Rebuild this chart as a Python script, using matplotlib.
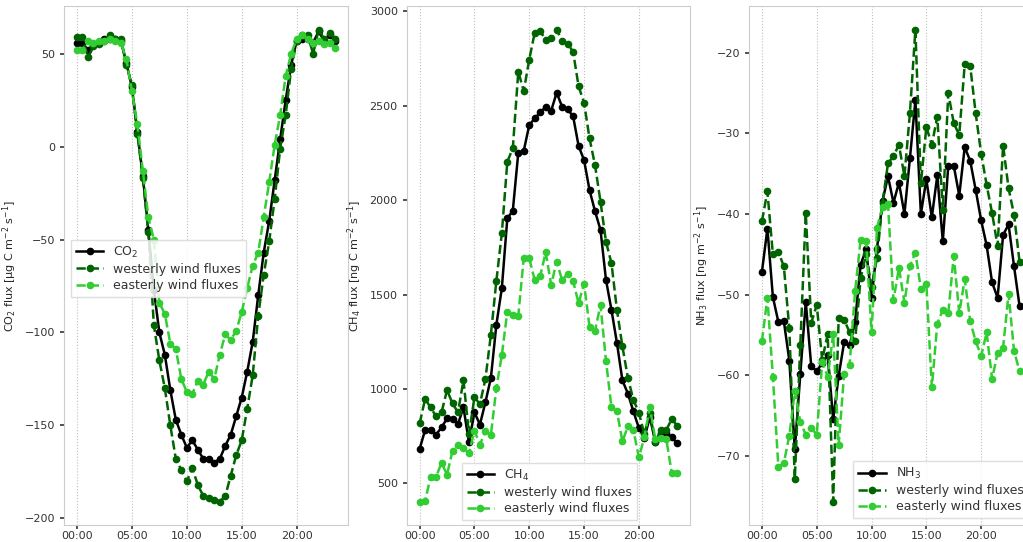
import numpy as np
import matplotlib
matplotlib.use("Agg")
import matplotlib.pyplot as plt

# horário (horas decimais, passos de 30 min)
hours = np.arange(0, 24, 0.5)
tick_hours = [0, 5, 10, 15, 20]
tick_labels = ['00:00', '05:00', '10:00', '15:00', '20:00']

# CO2
co2_all = [56, 56, 52, 55, 56, 58, 58, 58, 57, 45,
           32, 8, -16, -45, -77, -100, -112, -131, -147, -155,
           -162, -158, -163, -168, -168, -170, -168, -161, -155, -145,
           -135, -121, -105, -80, -57, -40, -18, 4, 25, 44,
           57, 58, 58, 56, 62, 57, 60, 57]
co2_west = [59, 59, 48, 54, 55, 57, 60, 58, 58, 44,
            33, 7, -17, -46, -96, -115, -130, -150, -168, -174,
            -180, -173, -182, -188, -189, -190, -191, -188, -177, -166,
            -158, -141, -123, -91, -69, -51, -28, -1, 17, 42,
            57, 60, 60, 50, 63, 58, 61, 58]
co2_east = [52, 52, 57, 56, 57, 57, 58, 57, 56, 47,
            30, 12, -13, -38, -50, -84, -90, -106, -109, -125,
            -132, -133, -126, -128, -121, -125, -112, -101, -104, -99,
            -89, -76, -64, -57, -38, -19, 1, 17, 38, 50,
            58, 60, 58, 56, 57, 55, 56, 53]

# CH4
ch4_all = [682, 782, 782, 758, 796, 844, 840, 814, 902, 717,
           876, 811, 929, 1058, 1340, 1534, 1904, 1944, 2251, 2262,
           2398, 2433, 2465, 2495, 2474, 2569, 2495, 2481, 2445, 2288,
           2212, 2053, 1942, 1842, 1578, 1419, 1243, 1045, 975, 881,
           793, 740, 850, 720, 767, 767, 743, 712]
ch4_west = [817, 947, 902, 855, 876, 994, 923, 876, 1047, 761,
            955, 920, 1052, 1287, 1572, 1825, 2204, 2275, 2680, 2579,
            2745, 2888, 2895, 2851, 2858, 2904, 2844, 2830, 2786, 2604,
            2516, 2327, 2186, 1992, 1780, 1666, 1419, 1225, 1058, 943,
            874, 761, 870, 717, 782, 782, 841, 805]
ch4_east = [403, 405, 535, 535, 608, 546, 673, 705, 687, 659,
            779, 705, 775, 756, 1005, 1179, 1410, 1391, 1387, 1696,
            1692, 1576, 1599, 1724, 1551, 1675, 1576, 1611, 1572, 1454,
            1558, 1329, 1308, 1445, 1149, 902, 881, 722, 802, 782,
            638, 743, 902, 735, 738, 735, 553, 553]

# NH3
nh3_all = [-47.2, -41.8, -50.3, -53.4, -53.3, -58.2, -69.2, -59.9, -50.9, -58.9,
           -59.5, -58.5, -57.5, -65.5, -60.1, -55.9, -56.3, -53.4, -46.3, -44.4,
           -50.4, -44.3, -38.4, -35.3, -38.6, -36.1, -40.0, -33.1, -25.9, -40.0,
           -35.7, -40.4, -35.2, -43.4, -34.0, -34.0, -37.7, -31.7, -33.4, -37.0,
           -40.8, -43.9, -48.5, -50.4, -42.6, -41.3, -46.5, -51.4]
nh3_west = [-40.9, -37.2, -45.0, -44.7, -46.5, -54.2, -72.9, -56.3, -39.9, -53.5,
            -51.3, -58.1, -54.9, -75.7, -52.9, -53.1, -54.7, -55.8, -48.0, -45.0,
            -49.0, -45.4, -38.6, -33.7, -32.8, -31.4, -35.3, -27.5, -17.1, -36.2,
            -29.2, -31.4, -27.9, -39.5, -25.0, -28.7, -30.2, -21.4, -21.6, -27.5,
            -32.5, -36.4, -39.9, -44.0, -31.5, -36.8, -40.1, -45.9]
nh3_east = [-55.8, -50.4, -60.2, -71.4, -70.9, -67.5, -62.0, -65.8, -67.4, -66.6,
            -67.4, -58.4, -60.2, -54.9, -68.7, -59.8, -58.7, -49.6, -43.2, -43.3,
            -54.7, -41.7, -39.1, -38.7, -50.7, -46.7, -51.0, -46.4, -44.8, -49.3,
            -48.7, -61.5, -53.6, -51.9, -52.3, -45.2, -52.3, -48.1, -53.3, -55.8,
            -57.6, -54.7, -60.5, -57.2, -56.6, -49.9, -57.0, -59.5]


# Função para desenhar um painel
def plot_panel(ax, all_vals, west, east, name, ylabel, leg_loc, leg_anchor):
    ax.plot(hours, all_vals, '-o', color='black', lw=1.8, ms=4.5, label=name)
    ax.plot(hours, west, '--o', color='darkgreen', lw=1.8, ms=4.5, label='westerly wind fluxes')
    ax.plot(hours, east, '--o', color='limegreen', lw=1.8, ms=4.5, label='easterly wind fluxes')

    ax.set_xticks(tick_hours)
    ax.set_xticklabels(tick_labels)
    ax.set_ylabel(ylabel, fontsize=8, color='0.15')
    ax.tick_params(labelsize=8, colors='0.2', length=3, width=1.2)
    ax.tick_params(axis='x', pad=1.5)
    ax.grid(axis='x', linestyle=':', color='0.75', lw=0.8)
    ax.set_axisbelow(True)
    for sp in ax.spines.values():
        sp.set_color('0.8')

    leg = ax.legend(loc=leg_loc, bbox_to_anchor=leg_anchor, borderaxespad=0,
                    fontsize=9, handlelength=2.2, labelspacing=0.25,
                    borderpad=0.4, framealpha=0.85, edgecolor='0.85', fancybox=False)
    for t in leg.get_texts():
        t.set_color('0.2')


def main():
    fig = plt.figure(figsize=(10.23, 5.42), dpi=100)
    ax1 = fig.add_axes([0.0626, 0.031, 0.2776, 0.958])
    ax2 = fig.add_axes([0.3976, 0.031, 0.2770, 0.958])
    ax3 = fig.add_axes([0.7322, 0.031, 0.2770, 0.958])

    plot_panel(ax1, co2_all, co2_west, co2_east, 'CO$_2$',
               'CO$_2$ flux [µg C m$^{-2}$ s$^{-1}$]', 'upper left', (0.024, 0.55))
    plot_panel(ax2, ch4_all, ch4_west, ch4_east, 'CH$_4$',
               'CH$_4$ flux [ng C m$^{-2}$ s$^{-1}$]', 'lower left', (0.194, 0.01))
    plot_panel(ax3, nh3_all, nh3_west, nh3_east, 'NH$_3$',
               'NH$_3$ flux [ng m$^{-2}$ s$^{-1}$]', 'lower left', (0.367, 0.013))

    fig.savefig('out.png', dpi=100)


if __name__ == "__main__":
    main()
